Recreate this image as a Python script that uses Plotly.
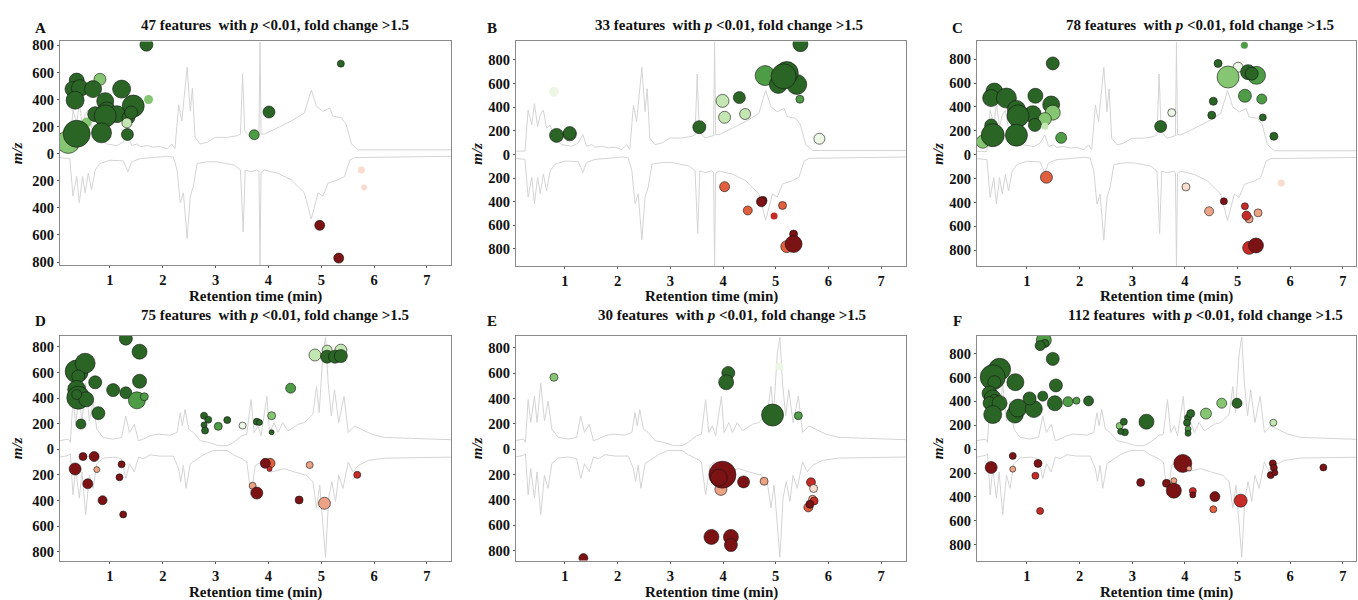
import plotly.graph_objects as go

# ---------------- TIC traces (mirror) ----------------
tic_abc_up_rt = [0.05,0.24,0.30,0.37,0.42,0.48,0.53,0.59,0.65,0.72,0.78,0.94,1.13,1.25,1.34,1.41,1.51,1.57,1.70,1.82,
                 1.95,2.08,2.17,2.23,2.30,2.36,2.46,2.52,2.56,2.61,2.71,2.84,2.99,3.22,3.41,3.47,3.51,3.55,3.66,3.78,
                 3.82,3.84,3.86,3.92,3.99,4.18,4.43,4.68,4.81,4.91,5.03,5.16,5.22,5.38,5.47,5.57,5.70,7.47]
tic_abc_up = [28,28,375,250,430,236,333,375,222,250,139,83,69,97,167,69,83,61,69,56,
              61,42,83,42,417,278,736,361,556,139,83,97,139,139,153,167,680,194,139,153,
              160,950,170,167,180,222,278,347,542,403,361,389,320,306,250,83,33,33]
tic_abc_dn_rt = [0.05,0.24,0.30,0.37,0.42,0.48,0.53,0.59,0.65,0.72,0.81,1.00,1.25,1.34,1.41,1.57,1.82,2.08,2.20,2.27,
                 2.33,2.39,2.46,2.52,2.58,2.65,2.84,3.03,3.35,3.47,3.52,3.56,3.66,3.78,3.82,3.84,3.86,3.92,4.18,4.43,
                 4.68,4.81,4.94,5.03,5.13,5.32,5.44,5.54,5.63,7.47]
tic_abc_dn = [-33,-42,-361,-194,-417,-194,-333,-167,-306,-139,-83,-56,-61,-153,-69,-42,-33,-22,-28,-139,
              -417,-333,-722,-361,-278,-83,-69,-69,-97,-139,-667,-139,-153,-139,-150,-950,-160,-139,-167,-222,
              -333,-556,-333,-361,-250,-222,-194,-56,-33,-22]

tic_def_up_rt = [0.05,0.21,0.25,0.30,0.35,0.42,0.47,0.54,0.61,0.68,0.75,0.87,1.06,1.22,1.30,1.37,1.46,1.54,1.63,1.76,
                 1.89,2.14,2.27,2.33,2.37,2.42,2.49,2.58,2.71,2.87,3.06,3.22,3.34,3.50,3.59,3.67,3.73,3.80,3.86,3.97,
                 4.02,4.11,4.18,4.27,4.37,4.56,4.68,4.84,4.91,4.96,5.03,5.08,5.13,5.19,5.25,5.33,5.43,5.51,5.63,5.76,
                 5.95,6.20,7.47]
tic_def_up = [67,80,54,391,210,417,210,521,223,378,158,93,80,93,262,132,197,67,80,106,
              119,111,132,288,184,313,158,132,67,54,28,28,54,106,119,391,132,184,106,417,
              132,210,132,210,145,197,210,275,495,288,754,883,521,262,469,210,417,132,184,158,
              119,93,75]
tic_def_dn_rt = [0.05,0.21,0.25,0.30,0.35,0.42,0.47,0.54,0.61,0.68,0.75,0.87,1.06,1.22,1.30,1.37,1.46,1.54,1.63,1.76,
                 1.95,2.20,2.30,2.34,2.39,2.44,2.52,2.65,2.77,2.96,3.22,3.34,3.50,3.59,3.67,3.75,3.86,4.05,4.30,4.49,
                 4.72,4.84,4.91,4.97,5.03,5.08,5.14,5.20,5.27,5.33,5.41,5.51,5.60,5.70,5.89,6.20,7.47]
tic_def_dn = [-62,-49,-36,-360,-153,-386,-179,-516,-205,-308,-114,-70,-62,-75,-231,-114,-179,-62,-75,-44,
              -54,-54,-153,-256,-127,-308,-114,-75,-44,-10,-10,-44,-75,-101,-360,-127,-101,-179,-153,-179,
              -205,-256,-464,-282,-593,-852,-386,-256,-412,-205,-308,-101,-179,-127,-88,-70,-62]

# ---------------- features: rt, m/z, intensity, fold-change class ----------------
a_rt  = [1.69,5.37,4.01,3.73,1.73,0.81,0.21,0.56,0.37,0.29,0.43,0.34,0.68,1.22,0.91,1.44,0.94,0.72,1.13,0.91,0.84,0.37,1.35,1.33,1.40,1.32,
         4.97,5.33,5.76,5.81]
a_mz  = [805,665,308,140,400,549,87,231,540,477,484,395,477,477,388,352,316,292,292,279,154,147,267,142,304,227,
         529,771,120,249]
a_int = [13,7,12,10,9,12,23,10,15,15,17,18,17,18,17,22,18,15,17,22,20,27,13,12,13,10,
         10,10,7,6]
a_fc  = ["g1","g1","g1","g2","g3n","g3","g3","g3n","g1","g1","g1","g1","g1","g1","g1","g1","g1","g1","g1","g1","g1","g1","g1","g1","g1","g4",
         "r1","r1","r5n","r5n"]

b_rt  = [0.79,0.84,1.09,1.09,3.55,3.99,4.03,4.42,4.31,4.80,5.05,5.40,5.21,5.15,5.46,5.47,5.83,
         4.03,4.47,4.76,4.73,5.13,4.97,5.34,5.21,5.34]
b_mz  = [531,161,170,181,231,453,314,342,481,667,592,592,689,661,467,933,133,
         273,474,389,401,432,521,674,780,758]
b_int = [10,14,13,13,13,13,12,11,12,20,18,20,23,25,8,15,11,
         10,9,8,10,8,7,8,12,17]
b_fc  = ["g5n","g1","g2","g1","g1","g4","g4","g4","g1","g2","g1","g1","g1","g1","g2","g1","g5",
         "r3","r3","r1","r1","r3","r2n","r1","r3","r1"]

c_rt  = [0.16,0.38,0.32,0.61,1.16,0.32,0.80,1.11,1.46,1.49,1.34,1.15,0.83,0.80,0.35,1.34,1.49,1.65,3.54,3.75,4.51,4.54,4.63,5.01,4.82,5.36,5.20,5.27,5.13,5.14,5.46,5.48,5.69,
         1.37,4.02,5.83,4.74,4.46,5.22,5.39,5.14,5.17,5.22,5.35]
c_mz  = [108,528,474,474,493,244,379,339,420,352,298,249,325,163,163,238,764,141,236,352,331,447,764,732,650,664,691,678,916,493,466,312,154,
         189,270,237,390,474,538,487,432,510,780,760]
c_int = [13,17,17,20,15,13,18,17,17,15,13,13,22,22,23,7,13,11,12,8,8,8,8,10,22,18,15,13,7,13,10,7,8,
         12,8,7,7,9,8,8,7,9,13,15]
c_fc  = ["g3","g1","g1","g1","g1","g1","g1","g1","g1","g3","g3","g1","g1","g1","g1","g4n","g1","g2","g1","g5","g1","g1","g1","g5","g3","g2","g1","g1","g2n","g2","g2","g1","g1",
         "r3","r5","r5n","r1","r4","r4","r4","r2","r2","r2","r1"]

d_rt  = [0.37,0.53,0.40,0.37,0.40,0.55,0.37,0.45,0.72,0.78,1.06,1.30,1.30,1.56,1.56,1.51,1.65,2.78,2.86,2.78,2.80,3.05,3.22,3.51,3.78,3.83,4.06,4.06,4.42,4.88,5.11,5.37,5.11,5.26,5.37,
         0.34,0.49,0.70,0.75,0.58,0.86,1.22,1.18,1.25,3.70,3.78,4.03,3.94,4.02,4.78,4.58,5.06,5.68]
d_mz  = [608,672,569,467,403,390,428,197,523,282,462,441,864,762,531,382,410,262,231,190,146,179,228,185,215,210,262,133,477,736,774,774,723,723,728,
         154,57,57,159,270,398,118,219,509,285,342,110,110,154,123,396,422,200]
d_int = [23,20,13,18,23,15,10,10,13,13,13,12,13,15,14,17,8,7,7,6,7,8,7,7,7,6,8,5,10,12,10,12,13,13,13,
         12,8,10,6,10,9,7,7,7,7,12,10,10,5,7,8,12,7]
d_fc  = ["g1","g1","g1","g1","g1","g1","g1","g1","g1","g1","g1","g1","g1","g1","g1","g2","g2","g1","g1","g1","g1","g2","g1","g5","g1","g1","g3","g1","g2","g4","g4","g4","g1","g1","g1",
         "r1","r1","r1","r4","r1","r1","r1","r1","r1","r4","r1","r3","r1","r2","r4","r1","r4","r2"]

e_rt  = [0.79,4.10,4.06,4.94,5.43,5.07,
         3.96,3.99,3.92,4.39,4.78,3.78,4.15,4.15,1.35,5.70,5.67,5.72,5.73,5.62,5.65]
e_mz  = [567,601,528,269,264,653,
         317,201,224,258,253,692,692,756,859,395,261,310,408,459,434]
e_int = [8,13,15,22,8,8,
         12,27,17,12,8,15,15,13,9,8,9,8,8,9,8]
e_fc  = ["g3","g1","g1","g1","g2","g5n",
         "r4","r1","r1","r1","r4","r1","r1","r1","r1","r4","r2","r5","r2","r3","r1"]

f_rt  = [0.48,0.35,0.38,0.78,0.29,0.35,0.38,0.29,0.48,0.35,0.77,0.83,1.13,1.05,1.30,1.32,1.34,1.25,1.49,1.55,1.53,1.78,1.94,2.17,2.76,2.84,2.86,2.78,3.27,4.06,4.11,4.04,4.06,4.06,4.40,4.70,4.99,5.68,
         0.32,0.73,0.73,1.21,1.16,1.25,3.16,3.65,3.79,3.79,3.96,4.08,4.15,4.15,4.57,4.54,5.06,5.67,5.69,5.63,5.71,6.63]
f_mz  = [669,602,561,561,466,425,417,385,385,290,290,344,336,425,444,913,886,867,756,534,385,398,406,404,195,230,142,148,230,263,298,222,168,133,298,385,385,222,
         153,56,167,119,222,517,278,286,264,347,119,161,350,383,397,503,431,119,156,217,197,153]
f_int = [22,25,13,17,15,17,10,13,15,18,17,18,17,13,10,15,8,10,13,13,15,10,7,10,7,7,7,6,15,7,8,7,6,6,11,10,10,7,
         12,7,6,8,7,7,8,8,6,15,18,5,7,6,10,7,13,7,7,7,6,7]
f_fc  = ["g1","g1","g1","g1","g1","g1","g1","g1","g1","g1","g1","g1","g1","g1","g1","g2","g1","g1","g1","g1","g1","g2","g2","g1","g3","g1","g1","g1","g1","g1","g1","g1","g2","g1","g3","g3","g1","g4",
         "r1","r1","r4","r1","r2","r2","r1","r1","r4","r1","r1","r4","r2","r1","r1","r3","r2","r1","r1","r1","r1","r1"]

n_features = [47, 33, 78, 75, 30, 112]
letters = ["A", "B", "C", "D", "E", "F"]
x_ticks = [1, 2, 3, 4, 5, 6, 7]
y_ticks = [-800, -600, -400, -200, 0, 200, 400, 600, 800]

# ---------------- styling ----------------
FC_COLORS = {"g1": "#2a6526", "g2": "#4e9c46", "g3": "#86c672", "g4": "#c3e6b2", "g5": "#ecf7e5",
             "r1": "#7b1214", "r2": "#c52b27", "r3": "#df5f3e", "r4": "#eca385", "r5": "#f8dccd"}
W, H = 1358, 600
SERIF = "Liberation Serif, Times New Roman, serif"
TRACE_COLOR = "#d4d4d4"

# plot-area boxes in px: (left, top, right, bottom), x range, y range
boxes = [(60, 38, 451, 265), (516, 38, 906, 266), (977, 38, 1356, 266),
         (60, 337, 451, 565), (516, 337, 906, 565), (977, 337, 1356, 565)]
xranges = [(0.054, 7.455), (0.07, 7.474), (0.051, 7.25), (0.054, 7.455), (0.07, 7.474), (0.051, 7.25)]
yranges = [(-822, 829), (-944, 956), (-932, 948), (-869, 885), (-878, 893), (-932, 948)]
title_cx = [275, 729, 1200, 275, 732, 1205]
title_y = [21, 21, 21, 316, 316, 316]
letter_xy = [(40, 24), (492, 24), (957, 24), (40, 322), (492, 322), (957, 322)]
ytitle_x = [17, 477, 938, 17, 477, 938]
xtitle_y = [297, 297, 297, 597, 597, 597]

features = [(a_rt, a_mz, a_int, a_fc), (b_rt, b_mz, b_int, b_fc), (c_rt, c_mz, c_int, c_fc),
            (d_rt, d_mz, d_int, d_fc), (e_rt, e_mz, e_int, e_fc), (f_rt, f_mz, f_int, f_fc)]
tics = [(tic_abc_up_rt, tic_abc_up, tic_abc_dn_rt, tic_abc_dn, 956)] * 3 + \
       [(tic_def_up_rt, tic_def_up, tic_def_dn_rt, tic_def_dn, 893)] * 3

fig = go.Figure()
layout = dict(width=W, height=H, margin=dict(l=0, r=0, t=0, b=0),
              paper_bgcolor="white", plot_bgcolor="white", showlegend=False,
              font=dict(family=SERIF, color="#111111"))
annotations = []

for i in range(6):
    L, T, R, B = boxes[i]
    xa = "xaxis" if i == 0 else f"xaxis{i+1}"
    ya = "yaxis" if i == 0 else f"yaxis{i+1}"
    xr = "x" if i == 0 else f"x{i+1}"
    yr = "y" if i == 0 else f"y{i+1}"
    axis_common = dict(showgrid=False, zeroline=False, showline=True, mirror=True,
                       linecolor="#8a8a8a", linewidth=1, ticks="outside", ticklen=2,
                       tickcolor="#555555", tickfont=dict(family=SERIF, size=14.5, color="#111", weight="bold"))
    layout[xa] = dict(domain=[L / W, R / W], range=list(xranges[i]), anchor=yr,
                      tickvals=x_ticks, ticktext=[str(v) for v in x_ticks], **axis_common)
    layout[ya] = dict(domain=[1 - B / H, 1 - T / H], range=list(yranges[i]), anchor=xr,
                      tickvals=y_ticks, ticktext=[str(abs(v)) for v in y_ticks], **axis_common)

    up_rt, up_v, dn_rt, dn_v, ref = tics[i]
    k = yranges[i][1] / ref
    fig.add_trace(go.Scatter(x=up_rt, y=[v * k for v in up_v], mode="lines",
                             line=dict(color=TRACE_COLOR, width=1), hoverinfo="skip",
                             xaxis=xr, yaxis=yr))
    fig.add_trace(go.Scatter(x=dn_rt, y=[v * k for v in dn_v], mode="lines",
                             line=dict(color=TRACE_COLOR, width=1), hoverinfo="skip",
                             xaxis=xr, yaxis=yr))

    rt, mz, inten, fc = features[i]
    ys = [m if c.startswith("g") else -m for m, c in zip(mz, fc)]
    cols = [FC_COLORS[c[:2]] for c in fc]
    lcols = ["rgba(0,0,0,0)" if c.endswith("n") else "rgba(20,20,20,0.85)" for c in fc]
    fig.add_trace(go.Scatter(x=rt, y=ys, mode="markers",
                             marker=dict(size=inten, color=cols, opacity=1,
                                         line=dict(color=lcols, width=0.7)),
                             xaxis=xr, yaxis=yr))

    annotations.append(dict(x=title_cx[i] / W, y=1 - title_y[i] / H, xref="paper", yref="paper",
                            text=f"<b>{n_features[i]} features&nbsp; with <i>p</i> &lt;0.01, fold change &gt;1.5</b>",
                            showarrow=False, font=dict(family=SERIF, size=15, color="#111"),
                            xanchor="center", yanchor="middle"))
    lx, ly = letter_xy[i]
    annotations.append(dict(x=lx / W, y=1 - ly / H, xref="paper", yref="paper", text=f"<b>{letters[i]}</b>",
                            showarrow=False, font=dict(family=SERIF, size=15, color="#111"),
                            xanchor="center", yanchor="middle"))
    annotations.append(dict(x=(L + R) / 2 / W, y=1 - xtitle_y[i] / H, xref="paper", yref="paper",
                            text="<b>Retention time (min)</b>", showarrow=False, borderpad=0,
                            font=dict(family=SERIF, size=15, color="#111"), xanchor="center",
                            yanchor="middle"))
    annotations.append(dict(x=ytitle_x[i] / W, y=1 - ((T + B) / 2) / H, xref="paper", yref="paper",
                            text="<b><i>m/z</i></b>", showarrow=False, textangle=-90,
                            font=dict(family=SERIF, size=15, color="#111"), xanchor="center", yanchor="middle"))

layout["annotations"] = annotations
fig.update_layout(**layout)
fig.write_html("out.html", config={"displayModeBar": False},
               post_script="document.body.style.margin='0';document.body.style.overflow='hidden';")
